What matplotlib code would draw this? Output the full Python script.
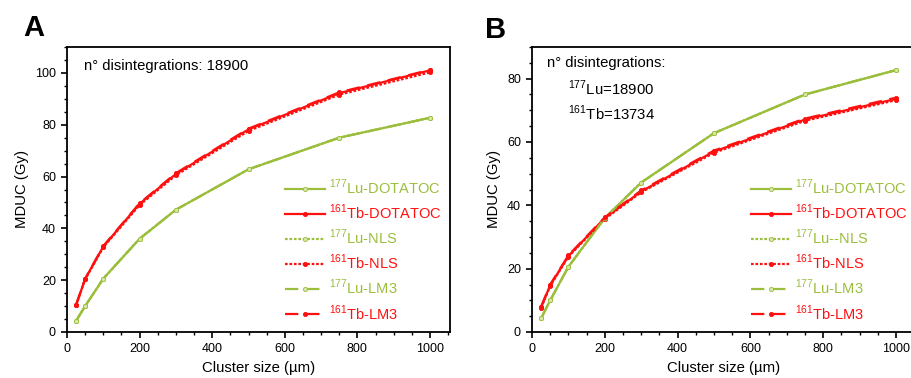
import matplotlib
matplotlib.use("Agg")
import matplotlib.pyplot as plt
from matplotlib.ticker import MultipleLocator

plt.rcParams['font.family'] = ['Liberation Sans', 'DejaVu Sans']
plt.rcParams['mathtext.fontset'] = 'custom'
plt.rcParams['mathtext.rm'] = 'Liberation Sans'

# cluster sizes (um)
cluster = [25, 50, 100, 200, 300, 500, 750, 1000]

# panel A, MDUC (Gy)
a_lu_dotatoc = [4.3, 10.0, 20.6, 36.0, 47.2, 62.8, 75.0, 82.7]
a_tb_dotatoc = [10.4, 20.5, 33.0, 49.5, 61.0, 78.2, 92.2, 101.0]
a_lu_nls = [4.3, 10.0, 20.6, 36.0, 47.2, 62.8, 75.0, 82.7]
a_tb_nls = [10.3, 20.3, 32.7, 49.0, 60.5, 77.6, 91.6, 100.2]
a_lu_lm3 = [4.3, 10.0, 20.6, 36.0, 47.2, 62.8, 75.0, 82.7]
a_tb_lm3 = [10.5, 20.6, 33.2, 49.7, 61.3, 78.5, 92.5, 101.2]

# panel B, MDUC (Gy)
b_lu_dotatoc = [4.3, 10.0, 20.6, 36.0, 47.2, 62.8, 75.0, 82.7]
b_tb_dotatoc = [7.8, 14.8, 24.0, 36.0, 44.4, 57.0, 67.1, 73.6]
b_lu_nls = [4.3, 10.0, 20.6, 36.0, 47.2, 62.8, 75.0, 82.7]
b_tb_nls = [7.6, 14.5, 23.8, 35.7, 44.1, 56.6, 66.7, 73.2]
b_lu_lm3 = [4.3, 10.0, 20.6, 36.0, 47.2, 62.8, 75.0, 82.7]
b_tb_lm3 = [8.0, 15.0, 24.2, 36.2, 44.7, 57.3, 67.4, 74.0]

labels_a = [r"$^{177}$Lu-DOTATOC", r"$^{161}$Tb-DOTATOC", r"$^{177}$Lu-NLS",
            r"$^{161}$Tb-NLS", r"$^{177}$Lu-LM3", r"$^{161}$Tb-LM3"]
labels_b = [r"$^{177}$Lu-DOTATOC", r"$^{161}$Tb-DOTATOC", r"$^{177}$Lu--NLS",
            r"$^{161}$Tb-NLS", r"$^{177}$Lu-LM3", r"$^{161}$Tb-LM3"]

green = "#9bbf3c"
red = "#ff1010"

fig = plt.figure(figsize=(9.12, 3.78), dpi=100)
axA = fig.add_axes([67/912, 1 - 332/378, (450-67)/912, (332-47)/378])
axB = fig.add_axes([532/912, 1 - 332/378, 384/912, (332-47)/378])


def draw(ax, series, labels, ymax):
    styles = ["-", "-", (0, (1.2, 0.8)), (0, (1.2, 0.8)), (0, (6, 3.5)), (0, (6, 3.5))]
    cols = [green, red, green, red, green, red]
    for ys, lab, ls, c in zip(series, labels, styles, cols):
        mfc = "#d8e8a8" if c == green else c
        ax.plot(cluster, ys, color=c, ls=ls, lw=1.6, marker="o", ms=3,
                mfc=mfc, mec=c, mew=0.6, label=lab)
    ax.set_xlim(0, 1055)
    ax.set_ylim(0, ymax)
    ax.xaxis.set_major_locator(MultipleLocator(200))
    ax.xaxis.set_minor_locator(MultipleLocator(50))
    ax.yaxis.set_major_locator(MultipleLocator(20))
    ax.yaxis.set_minor_locator(MultipleLocator(5))
    ax.tick_params(which="major", length=4, width=1.2, labelsize=9, pad=4)
    ax.tick_params(which="minor", length=2.5, width=1.0)
    for sp in ax.spines.values():
        sp.set_linewidth(1.3)
    ax.set_xlabel("Cluster size (µm)", fontsize=10.7, labelpad=4)
    ax.set_ylabel("MDUC (Gy)", fontsize=10.7, labelpad=4)
    leg = ax.legend(loc="lower left", bbox_to_anchor=(0.545, 0.0), frameon=False,
                    fontsize=10.5, handlelength=2.75, handletextpad=0.25,
                    labelspacing=0.4, labelcolor="linecolor", borderpad=0.15)
    return leg


draw(axA, [a_lu_dotatoc, a_tb_dotatoc, a_lu_nls, a_tb_nls, a_lu_lm3, a_tb_lm3], labels_a, 110)
draw(axB, [b_lu_dotatoc, b_tb_dotatoc, b_lu_nls, b_tb_nls, b_lu_lm3, b_tb_lm3], labels_b, 90)

axA.text(0.044, 0.935, "n° disintegrations: 18900", transform=axA.transAxes,
         fontsize=10.7, va="center", ha="left")
axB.text(0.04, 0.945, "n° disintegrations:", transform=axB.transAxes,
         fontsize=10.7, va="center", ha="left")
axB.text(0.095, 0.855, r"$^{177}$Lu=18900", transform=axB.transAxes,
         fontsize=10.7, va="center", ha="left")
axB.text(0.095, 0.768, r"$^{161}$Tb=13734", transform=axB.transAxes,
         fontsize=10.7, va="center", ha="left")

fig.text(23/912, 1 - 28/378, "A", fontsize=21, fontweight="bold", va="center", ha="left")
fig.text(485/912, 1 - 30/378, "B", fontsize=21, fontweight="bold", va="center", ha="left")

fig.savefig("out.png", dpi=100)
